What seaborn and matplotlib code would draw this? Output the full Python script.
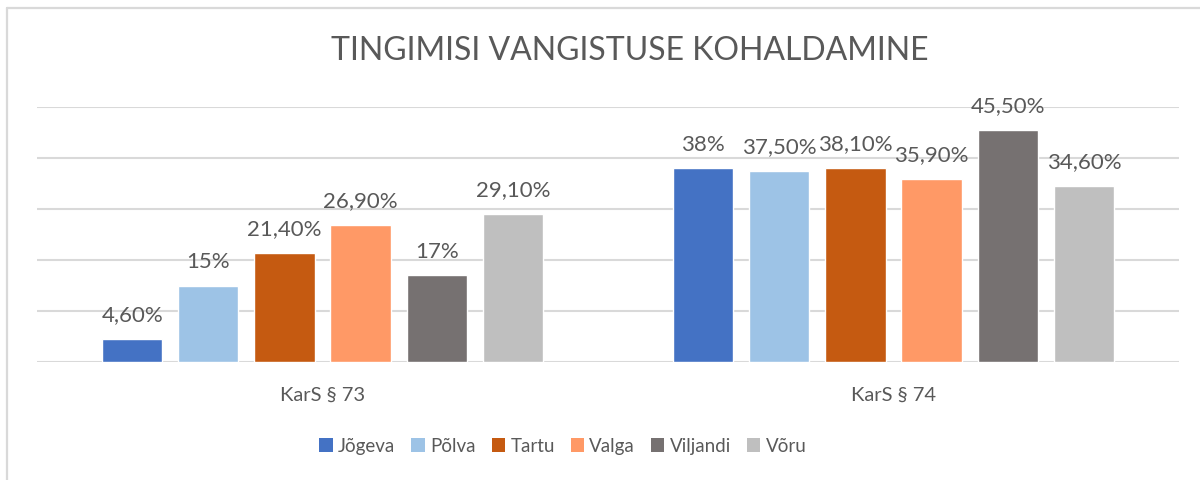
import matplotlib
matplotlib.use("Agg")
import matplotlib.pyplot as plt
import seaborn as sns
import pandas as pd
from matplotlib.lines import Line2D
from matplotlib.patches import Patch

categories = ["KarS § 73", "KarS § 74"]
regions = ["Jõgeva", "Põlva", "Tartu", "Valga", "Viljandi", "Võru"]
values_73 = [4.6, 15.0, 21.4, 26.9, 17.0, 29.1]
values_74 = [38.0, 37.5, 38.1, 35.9, 45.5, 34.6]
colors = ["#4472C4", "#9DC3E6", "#C55A11", "#FF9966", "#767171", "#BFBFBF"]
title = "TINGIMISI VANGISTUSE KOHALDAMINE"

rows = []
for r, a, b in zip(regions, values_73, values_74):
    rows.append({"cat": categories[0], "region": r, "val": a})
    rows.append({"cat": categories[1], "region": r, "val": b})
df = pd.DataFrame(rows)

sns.set_theme(style="white")
plt.rcParams["font.family"] = ["Lato", "DejaVu Sans"]
TXT = "#595959"

fig = plt.figure(figsize=(12, 4.81), dpi=100)
ax = fig.add_axes([37/1200, 1-363/481, (1179-37)/1200, (363-108)/481])

sns.barplot(data=df, x="cat", y="val", hue="region", order=categories,
            hue_order=regions, palette=colors, width=0.8, gap=0.21,
            errorbar=None, ax=ax, legend=False, saturation=1)

def fmt(v):
    if float(v).is_integer():
        return f"{int(v)}%"
    return f"{v:.2f}".replace(".", ",") + "%"

for cont in ax.containers:
    ax.bar_label(cont, labels=[fmt(b.get_height()) for b in cont],
                 padding=10.5, fontsize=16, color=TXT)

ax.set_ylim(0, 50)
ax.set_yticks([0, 10, 20, 30, 40, 50])
ax.set_yticklabels([])
ax.yaxis.grid(True, color="#D9D9D9", lw=1.5)
ax.set_axisbelow(True)
for s in ax.spines.values():
    s.set_visible(False)
ax.tick_params(axis="x", length=0, pad=17, labelsize=14.5, labelcolor=TXT)
ax.tick_params(axis="y", length=0)
ax.set_xlabel("")
ax.set_ylabel("")
ax.set_xlim(-0.5, 1.5)

fig.text(630/1200, 1-51/481, title, ha="center", va="center",
         fontsize=23, color=TXT)

handles = [Patch(facecolor=c, edgecolor="none") for c in colors]
fig.legend(handles, regions, loc="center", bbox_to_anchor=(563/1200, 1-447/481),
           ncol=6, frameon=False, fontsize=13.5, labelcolor=TXT,
           handlelength=0.7, handleheight=0.7, handletextpad=0.3,
           columnspacing=0.85)

# chart border (top and left visible)
fig.add_artist(Line2D([7/1200, 7/1200], [0, 1-9/481], color="#D9D9D9", lw=1.6,
                      transform=fig.transFigure))
fig.add_artist(Line2D([7/1200, 1], [1-9/481, 1-9/481], color="#D9D9D9", lw=1.6,
                      transform=fig.transFigure))

fig.savefig("out.png", dpi=100, facecolor="white")
